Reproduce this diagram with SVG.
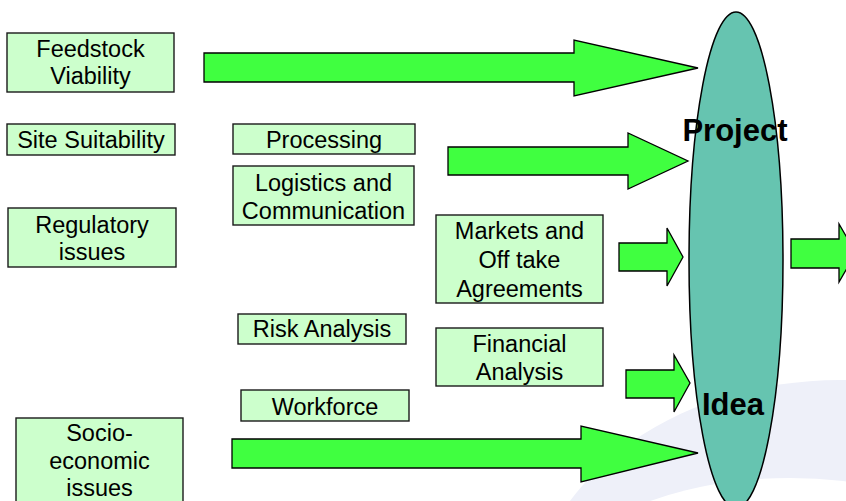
<svg xmlns="http://www.w3.org/2000/svg" width="846" height="501" viewBox="0 0 846 501">
  <style>
    .box { fill: #ccffcc; stroke: #1a1a1a; stroke-width: 1.4; }
    .lbl { font-family: "Liberation Sans", Arial, sans-serif; font-size: 23.5px; fill: #000; text-anchor: middle; }
    .big { font-family: "Liberation Sans", Arial, sans-serif; font-size: 31px; font-weight: bold; fill: #000; text-anchor: middle; }
    .arrow { fill: #40ff40; stroke: #000; stroke-width: 1.3; stroke-linejoin: miter; }
  </style>

  <!-- soft background swoosh -->
  <g id="background">
    <rect x="0" y="0" width="846" height="501" fill="#ffffff"/>
    <ellipse cx="840" cy="620" rx="311" ry="240" fill="#eef0f9"/>
    <ellipse cx="790" cy="640" rx="272" ry="162" fill="#ffffff"/>
  </g>

  <!-- central goal -->
  <g id="project-idea">
    <ellipse cx="736" cy="260" rx="47" ry="248" fill="#66c4b0" stroke="#000" stroke-width="1.5"/>
  </g>

  <g id="connectors">
    <path class="arrow" d="M204,53 H574 V40 L698,68 L574,96 V82 H204 Z"/>
    <path class="arrow" d="M448,147 H628 V133 L688,161 L628,189 V175 H448 Z"/>
    <path class="arrow" d="M619,243 H667 V228 L683,257 L667,286 V271 H619 Z"/>
    <path class="arrow" d="M791,239 H839 V224 L856,253 L839,282 V268 H791 Z"/>
    <path class="arrow" d="M626,370 H674 V355 L690,383 L674,412 V398 H626 Z"/>
    <path class="arrow" d="M232,439 H581 V426 L698,453 L581,482 V468 H232 Z"/>
  </g>

  <g id="feedstock">
    <rect class="box" x="7" y="33" width="167" height="59"/>
    <text class="lbl" x="90.5" y="57">Feedstock</text>
    <text class="lbl" x="90.5" y="84">Viability</text>
  </g>

  <g id="site">
    <rect class="box" x="7" y="124" width="168" height="31"/>
    <text class="lbl" x="91" y="148">Site Suitability</text>
  </g>

  <g id="regulatory">
    <rect class="box" x="8" y="208" width="168" height="59"/>
    <text class="lbl" x="92" y="233">Regulatory</text>
    <text class="lbl" x="92" y="260">issues</text>
  </g>

  <g id="processing">
    <rect class="box" x="233" y="124" width="182" height="30"/>
    <text class="lbl" x="324" y="147.5">Processing</text>
  </g>

  <g id="logistics">
    <rect class="box" x="233" y="166" width="181" height="59"/>
    <text class="lbl" x="323.5" y="191">Logistics and</text>
    <text class="lbl" x="323.5" y="219">Communication</text>
  </g>

  <g id="markets">
    <rect class="box" x="436" y="215" width="167" height="88"/>
    <text class="lbl" x="519.5" y="239">Markets and</text>
    <text class="lbl" x="519.5" y="268">Off take</text>
    <text class="lbl" x="519.5" y="297">Agreements</text>
  </g>

  <g id="risk">
    <rect class="box" x="238" y="314" width="168" height="30"/>
    <text class="lbl" x="322" y="337">Risk Analysis</text>
  </g>

  <g id="financial">
    <rect class="box" x="436" y="328" width="167" height="58"/>
    <text class="lbl" x="519.5" y="352">Financial</text>
    <text class="lbl" x="519.5" y="380">Analysis</text>
  </g>

  <g id="workforce">
    <rect class="box" x="241" y="390" width="168" height="31"/>
    <text class="lbl" x="325" y="415">Workforce</text>
  </g>

  <g id="socio">
    <rect class="box" x="16" y="418" width="167" height="90"/>
    <text class="lbl" x="99.5" y="441">Socio-</text>
    <text class="lbl" x="99.5" y="469">economic</text>
    <text class="lbl" x="99.5" y="496">issues</text>
  </g>

  <g id="labels">
    <text class="big" x="735" y="141">Project</text>
    <text class="big" x="733" y="415">Idea</text>
  </g>
</svg>
